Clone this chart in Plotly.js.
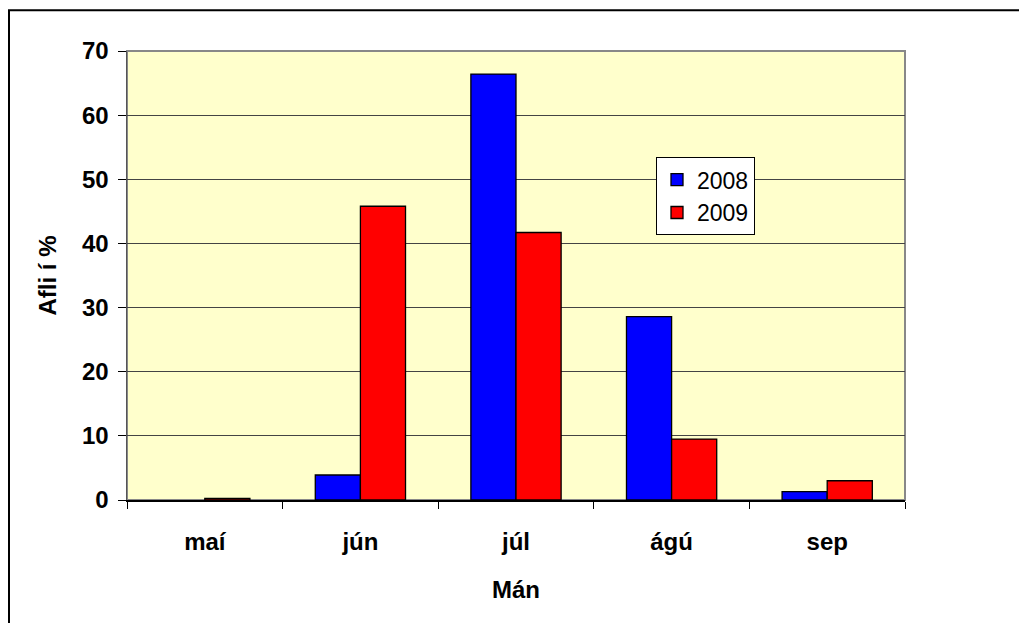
<!DOCTYPE html>
<html>
<head>
<meta charset="utf-8">
<script src="https://cdn.plot.ly/plotly-3.0.1.min.js"></script>
<style>html,body{margin:0;padding:0;background:#fff;}#chart{width:1019px;height:623px;}</style>
</head>
<body>
<div id="chart"></div>
<script>
const months = ["maí", "jún", "júl", "ágú", "sep"];
const series2008 = [null, 3.9, 66.4, 28.6, 1.3];
const series2009 = [0.25, 45.8, 41.7, 9.5, 3.0];
const seriesNames = ["2008", "2009"];
const yTicks = [0, 10, 20, 30, 40, 50, 60, 70];

const F = "Liberation Sans, Arial, sans-serif";
const traces = [
  {type: "bar", name: seriesNames[0], x: months, y: series2008,
   marker: {color: "#0000FF", line: {color: "#000000", width: 1.3}}},
  {type: "bar", name: seriesNames[1], x: months, y: series2009,
   marker: {color: "#FF0000", line: {color: "#000000", width: 1.3}}}
];
const L = 127, R = 905, T = 50.7, B = 500.3;
const W = 1019, H = 623;
const pw = R - L, ph = B - T;
const layout = {
  width: W, height: H,
  margin: {l: L, r: W - R, t: T, b: H - B, pad: 0},
  paper_bgcolor: "#FFFFFF",
  plot_bgcolor: "#FFFFCC",
  barmode: "group",
  bargap: 0.42,
  bargroupgap: 0,
  showlegend: true,
  legend: {
    x: (656 - L) / pw, y: (B - 157) / ph, xanchor: "left", yanchor: "top",
    bgcolor: "#FFFFFF", bordercolor: "#000000", borderwidth: 1,
    font: {family: F, size: 23, color: "#000"},
    itemwidth: 30, tracegroupgap: 0
  },
  xaxis: {
    type: "category",
    tickson: "boundaries",
    ticks: "outside", ticklen: 7, tickcolor: "#000", tickwidth: 1,
    showline: true, linecolor: "#000", linewidth: 1.5,
    tickfont: {family: F, size: 24, color: "#000", weight: "bold"},
    ticklabelstandoff: 20,
    title: {text: "<b>Mán</b>", font: {family: F, size: 24, color: "#000"}, standoff: 27},
    showgrid: false, zeroline: false
  },
  yaxis: {
    range: [0, 70],
    tickvals: yTicks,
    ticktext: yTicks.map(String),
    ticks: "outside", ticklen: 8, tickcolor: "#000", tickwidth: 1,
    showline: true, linecolor: "#555", linewidth: 1.5,
    tickfont: {family: F, size: 24, color: "#000", weight: "bold"},
    ticklabelstandoff: 4,
    showgrid: true, gridcolor: "#444", gridwidth: 1,
    zeroline: false,
    title: {text: "<b>Afli í %</b>", font: {family: F, size: 24, color: "#000"}, standoff: 18}
  },
  shapes: [
    {type: "rect", xref: "paper", yref: "paper", x0: 0, x1: 1, y0: 0, y1: 1,
     line: {color: "#888", width: 2}, fillcolor: "rgba(0,0,0,0)", layer: "below"},
    {type: "rect", xref: "paper", yref: "paper",
     x0: (9 - L) / pw, x1: 1.5, y0: -0.6, y1: (B - 10) / ph,
     line: {color: "#000", width: 2}, fillcolor: "rgba(0,0,0,0)"}
  ]
};
Plotly.newPlot("chart", traces, layout, {displayModeBar: false, staticPlot: true});
</script>
</body>
</html>
